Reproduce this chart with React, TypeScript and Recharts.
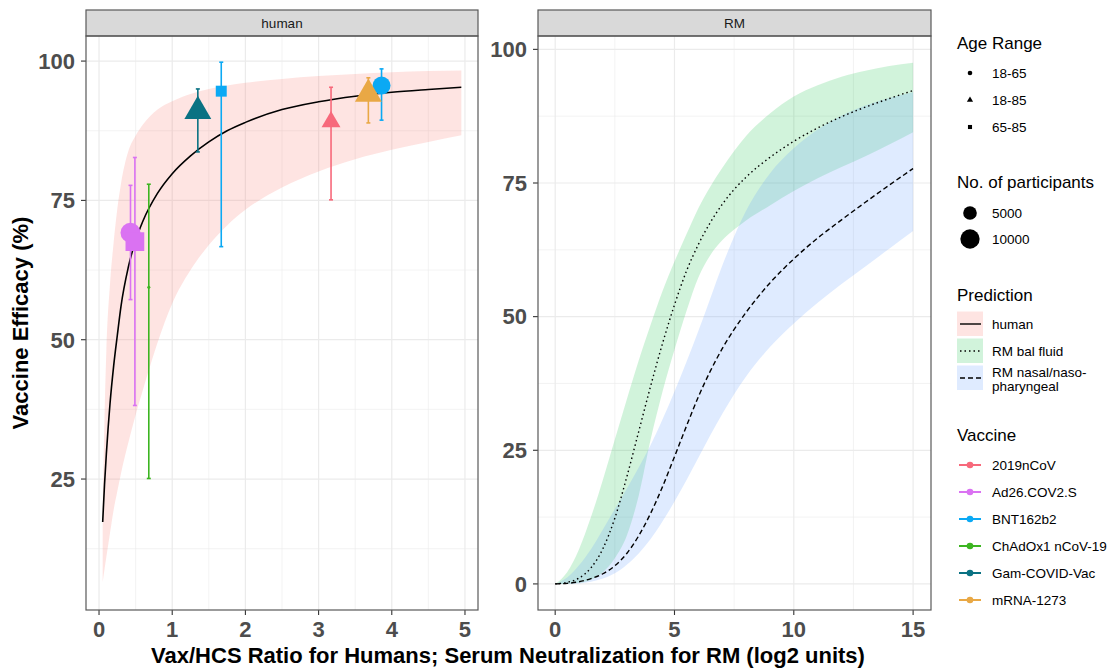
import React from "react";
import { Area, CartesianGrid, ComposedChart, ErrorBar, Line, Scatter, XAxis, YAxis } from "recharts";

const FONT = '"Liberation Sans", Arial, Helvetica, sans-serif';

// human panel: predicted efficacy against the vax/HCS ratio
const humanRatio = [0.05, 0.075, 0.1, 0.15, 0.2, 0.25, 0.3, 0.4, 0.5, 0.6, 0.8, 1.0, 1.25, 1.5, 1.75, 2, 2.5, 3, 3.5, 4, 4.5, 4.95];
const humanFit = [17.3, 24, 29.5, 38.5, 45.3, 50.8, 56, 63, 67.8, 71.3, 76.3, 79.8, 83, 85.5, 87.5, 89, 91.3, 92.7, 93.7, 94.4, 94.9, 95.3];
const humanLower = [6.5, 8.8, 11, 15.3, 19.5, 22.8, 26, 31.5, 36.5, 41, 49.5, 56.5, 62.5, 67, 70.5, 73.3, 77.3, 80.2, 82.4, 84.1, 85.5, 86.7];
const humanUpper = [20, 36, 48, 60, 67.5, 73.5, 78, 83.8, 86.6, 88.6, 91.3, 92.8, 94.1, 95, 95.6, 96.1, 96.8, 97.3, 97.7, 98.0, 98.2, 98.3];

// trial estimates
const trialVaccine = ["Ad26.COV2.S", "Ad26.COV2.S", "ChAdOx1 nCoV-19", "Gam-COVID-Vac", "BNT162b2", "2019nCoV", "mRNA-1273", "BNT162b2"];
const trialAge = ["18-65", "65-85", "18-65", "18-85", "65-85", "18-85", "18-85", "18-65"];
const trialRatio = [0.43, 0.49, 0.68, 1.35, 1.67, 3.17, 3.68, 3.86];
const trialEfficacy = [69.2, 67.6, 59.4, 91, 94.6, 89.1, 94.1, 95.6];
const trialLower = [57.2, 38.2, 25.1, 83.7, 66.7, 75.1, 88.9, 89.4];
const trialUpper = [77.7, 82.7, 77.9, 95.0, 99.8, 95.3, 97.0, 98.6];
const trialParticipants = [10700, 12000, 250, 10700, 4100, 5300, 10700, 8700];

const vaccineNames = ["2019nCoV", "Ad26.COV2.S", "BNT162b2", "ChAdOx1 nCoV-19", "Gam-COVID-Vac", "mRNA-1273"];
const vaccineColors = ["#F7697B", "#DA72F2", "#0BA9F4", "#3CB521", "#0A7283", "#E9A845"];

// RM panel: predicted efficacy against serum neutralization
const rmTitre = [0, 0.5, 1, 1.5, 2, 2.5, 3, 3.5, 4, 4.5, 5, 5.5, 6, 6.5, 7, 7.5, 8, 9, 10, 11, 12, 13, 14, 15];
const balFit = [0, 0.3, 1.1, 3, 6.6, 12.3, 20, 28.5, 37, 45, 52.2, 58.5, 63.5, 67.6, 71, 73.8, 76.1, 79.8, 82.8, 85.3, 87.4, 89.2, 90.8, 92.3];
const balLower = [0, 0, 0.2, 0.8, 2.2, 4.8, 9, 16.5, 27, 36, 43.8, 51, 57.3, 61.5, 64.3, 66.3, 68, 70.8, 73.5, 75.9, 78, 80, 82.2, 84.5];
const balUpper = [0, 2.2, 6.5, 12.5, 19.5, 27, 34.5, 41.8, 48.5, 54.8, 60.3, 65.4, 70.3, 74.3, 77.8, 81, 83.8, 88, 91.2, 93.3, 94.9, 96, 96.9, 97.5];
const nasalFit = [0, 0.1, 0.4, 1.0, 1.9, 3.4, 5.7, 9.0, 13.2, 18.2, 23.8, 29.5, 35.0, 39.8, 44.0, 47.6, 50.8, 56.3, 60.8, 64.7, 68.1, 71.4, 74.6, 77.7];
const nasalLower = [0, 0, 0.1, 0.4, 1, 2, 3.6, 5.7, 8.4, 11.7, 15.4, 19.4, 23.6, 27.8, 31.8, 35.5, 38.8, 44.3, 48.7, 52.6, 56.1, 59.4, 62.7, 66];
const nasalUpper = [0, 1.2, 3.5, 6.5, 10.2, 14, 17.8, 21.8, 26, 30.8, 36, 41.5, 47.3, 53.4, 59.5, 65, 69.8, 76.8, 81.5, 85, 87.6, 89.5, 90.9, 92];

const ageRanges = ["18-65", "18-85", "65-85"];
const participantBreaks = [5000, 10000];

const humanRows = humanRatio.map((ratio, i) => ({
  ratio,
  fit: humanFit[i],
  band: [humanLower[i], humanUpper[i]],
}));

const trialRows = trialRatio.map((ratio, i) => ({
  ratio,
  efficacy: trialEfficacy[i],
  err: [trialEfficacy[i] - trialLower[i], trialUpper[i] - trialEfficacy[i]],
  vaccine: trialVaccine[i],
  age: trialAge[i],
  participants: trialParticipants[i],
}));

const rmRows = rmTitre.map((titre, i) => ({
  titre,
  bal: balFit[i],
  nasal: nasalFit[i],
  balBand: [balLower[i], balUpper[i]],
  nasalBand: [nasalLower[i], nasalUpper[i]],
}));

const markerDiameter = (n: number) => 0.193 * Math.sqrt(n);

function Glyph({ shape, x, y, d, fill }: { shape: string; x: number; y: number; d: number; fill: string }) {
  const s = d / 2;
  if (shape === "18-85") {
    const apex = 1.555 * s;
    const base = 0.777 * s;
    const half = 1.347 * s;
    return <polygon points={`${x},${y - apex} ${x + half},${y + base} ${x - half},${y + base}`} fill={fill} />;
  }
  if (shape === "65-85") {
    const h = 0.886 * s;
    return <rect x={x - h} y={y - h} width={2 * h} height={2 * h} fill={fill} />;
  }
  return <circle cx={x} cy={y} r={s} fill={fill} />;
}

function Marker(props: any) {
  const { cx, cy, payload, fill } = props;
  if (cx == null || cy == null) return <g />;
  return <Glyph shape={payload.age} x={cx} y={cy} d={markerDiameter(payload.participants)} fill={fill} />;
}

const tickStyle = { fill: "#4D4D4D", fontSize: 22, fontWeight: "bold", fontFamily: FONT };
const tickLine = { stroke: "#333333", strokeWidth: 1.1 };
const GRID = "#EBEBEB";
const BORDER = "#595959";

function Legend() {
  const tx = 992;
  return (
    <g fontFamily={FONT}>
      <text x={957} y={43} fontSize={17} dominantBaseline="central">Age Range</text>
      {ageRanges.map((a, i) => (
        <g key={a}>
          <Glyph shape={a} x={970} y={73 + i * 27} d={4.6} fill="#000" />
          <text x={tx} y={73 + i * 27} fontSize={13.5} dominantBaseline="central">{a}</text>
        </g>
      ))}
      <text x={957} y={182} fontSize={17} dominantBaseline="central">No. of participants</text>
      {participantBreaks.map((n, i) => (
        <g key={n}>
          <circle cx={970} cy={213 + i * 26} r={markerDiameter(n) / 2} fill="#000" />
          <text x={tx} y={213 + i * 26} fontSize={13.5} dominantBaseline="central">{n}</text>
        </g>
      ))}
      <text x={957} y={295} fontSize={17} dominantBaseline="central">Prediction</text>
      <rect x={957} y={311.5} width={26} height={24.5} fill="#F8766D" fillOpacity={0.2} />
      <line x1={960} x2={981} y1={324} y2={324} stroke="#000" strokeWidth={1.4} />
      <text x={tx} y={324} fontSize={13.5} dominantBaseline="central">human</text>
      <rect x={957} y={338.5} width={26} height={24.5} fill="#00BA38" fillOpacity={0.18} />
      <line x1={960} x2={981} y1={351} y2={351} stroke="#000" strokeWidth={1.4} strokeDasharray="1.5 3" />
      <text x={tx} y={351} fontSize={13.5} dominantBaseline="central">RM bal fluid</text>
      <rect x={957} y={365.5} width={26} height={24.5} fill="#619CFF" fillOpacity={0.2} />
      <line x1={960} x2={981} y1={378} y2={378} stroke="#000" strokeWidth={1.4} strokeDasharray="5 3" />
      <text x={tx} y={372} fontSize={13.5} dominantBaseline="central">RM nasal/naso-</text>
      <text x={tx} y={386} fontSize={13.5} dominantBaseline="central">pharyngeal</text>
      <text x={957} y={435} fontSize={17} dominantBaseline="central">Vaccine</text>
      {vaccineNames.map((v, i) => (
        <g key={v}>
          <line x1={959} x2={981} y1={465 + i * 27} y2={465 + i * 27} stroke={vaccineColors[i]} strokeWidth={2} />
          <circle cx={970} cy={465 + i * 27} r={3.3} fill={vaccineColors[i]} />
          <text x={tx} y={465 + i * 27} fontSize={13.5} dominantBaseline="central">{v}</text>
        </g>
      ))}
    </g>
  );
}

export default function App() {
  return (
    <div style={{ position: "absolute", left: 0, top: 0, width: 1110, height: 669, background: "#fff", fontFamily: FONT }}>
      <div style={{ position: "absolute", left: 0, top: 0 }}>
        <ComposedChart width={490} height={669} data={humanRows} margin={{ top: 36, right: 12, left: 0, bottom: 0 }}>
          <CartesianGrid stroke={GRID} strokeWidth={0.6} verticalValues={[0.5, 1.5, 2.5, 3.5, 4.5]} horizontalValues={[12.5, 37.5, 62.5, 87.5]} />
          <CartesianGrid stroke={GRID} strokeWidth={1.2} verticalValues={[0, 1, 2, 3, 4, 5]} horizontalValues={[25, 50, 75, 100]} />
          <XAxis
            dataKey="ratio"
            type="number"
            domain={[-0.178, 5.178]}
            ticks={[0, 1, 2, 3, 4, 5]}
            allowDataOverflow
            interval={0}
            height={59}
            axisLine={false}
            tickLine={tickLine}
            tickSize={5}
            tickMargin={6}
            tick={tickStyle}
          />
          <YAxis
            type="number"
            domain={[1.5, 104.5]}
            ticks={[25, 50, 75, 100]}
            allowDataOverflow
            interval={0}
            width={86}
            axisLine={false}
            tickLine={tickLine}
            tickSize={5}
            tickMargin={6}
            tick={tickStyle}
          />
          <Area type="monotone" dataKey="band" stroke="none" fill="#F8766D" fillOpacity={0.2} isAnimationActive={false} />
          <Line type="monotone" dataKey="fit" stroke="#000" strokeWidth={1.6} dot={false} isAnimationActive={false} />
          {vaccineNames.map((v, i) => (
            <Scatter
              key={v}
              data={trialRows.filter((r) => r.vaccine === v)}
              dataKey="efficacy"
              fill={vaccineColors[i]}
              shape={Marker}
              isAnimationActive={false}
            >
              <ErrorBar dataKey="err" direction="y" width={2} stroke={vaccineColors[i]} strokeWidth={1.6} isAnimationActive={false} />
            </Scatter>
          ))}
        </ComposedChart>
      </div>
      <div style={{ position: "absolute", left: 440, top: 0 }}>
        <ComposedChart width={500} height={669} data={rmRows} margin={{ top: 36, right: 9, left: 0, bottom: 0 }}>
          <CartesianGrid stroke={GRID} strokeWidth={0.6} verticalValues={[2.5, 7.5, 12.5]} horizontalValues={[12.5, 37.5, 62.5, 87.5]} />
          <CartesianGrid stroke={GRID} strokeWidth={1.2} verticalValues={[0, 5, 10, 15]} horizontalValues={[0, 25, 50, 75, 100]} />
          <XAxis
            dataKey="titre"
            type="number"
            domain={[-0.72, 15.75]}
            ticks={[0, 5, 10, 15]}
            allowDataOverflow
            interval={0}
            height={59}
            axisLine={false}
            tickLine={tickLine}
            tickSize={5}
            tickMargin={6}
            tick={tickStyle}
          />
          <YAxis
            type="number"
            domain={[-4.88, 102.5]}
            ticks={[0, 25, 50, 75, 100]}
            allowDataOverflow
            interval={0}
            width={98}
            axisLine={false}
            tickLine={tickLine}
            tickSize={5}
            tickMargin={6}
            tick={tickStyle}
          />
          <Area type="monotone" dataKey="balBand" stroke="none" fill="#00BA38" fillOpacity={0.18} isAnimationActive={false} />
          <Area type="monotone" dataKey="nasalBand" stroke="none" fill="#619CFF" fillOpacity={0.2} isAnimationActive={false} />
          <Line type="monotone" dataKey="bal" stroke="#000" strokeWidth={1.4} strokeDasharray="1.5 3" dot={false} isAnimationActive={false} />
          <Line type="monotone" dataKey="nasal" stroke="#000" strokeWidth={1.4} strokeDasharray="5 3" dot={false} isAnimationActive={false} />
        </ComposedChart>
      </div>
      <svg width={1110} height={669} style={{ position: "absolute", left: 0, top: 0, pointerEvents: "none" }} fontFamily={FONT}>
        <rect x={86} y={10} width={392} height={26} fill="#D9D9D9" stroke={BORDER} strokeWidth={1.2} />
        <text x={282} y={23} textAnchor="middle" dominantBaseline="central" fontSize={13.5} fill="#1A1A1A">human</text>
        <rect x={538} y={10} width={393} height={26} fill="#D9D9D9" stroke={BORDER} strokeWidth={1.2} />
        <text x={734.5} y={23} textAnchor="middle" dominantBaseline="central" fontSize={13.5} fill="#1A1A1A">RM</text>
        <rect x={86} y={36} width={392} height={574} fill="none" stroke={BORDER} strokeWidth={1.2} />
        <rect x={538} y={36} width={393} height={574} fill="none" stroke={BORDER} strokeWidth={1.2} />
        <text x={20} y={323} transform="rotate(-90 20 323)" textAnchor="middle" dominantBaseline="central" fontSize={22} fontWeight="bold">
          Vaccine Efficacy (%)
        </text>
        <text x={508} y={655} textAnchor="middle" dominantBaseline="central" fontSize={22} fontWeight="bold">
          Vax/HCS Ratio for Humans; Serum Neutralization for RM (log2 units)
        </text>
        <Legend />
      </svg>
    </div>
  );
}
